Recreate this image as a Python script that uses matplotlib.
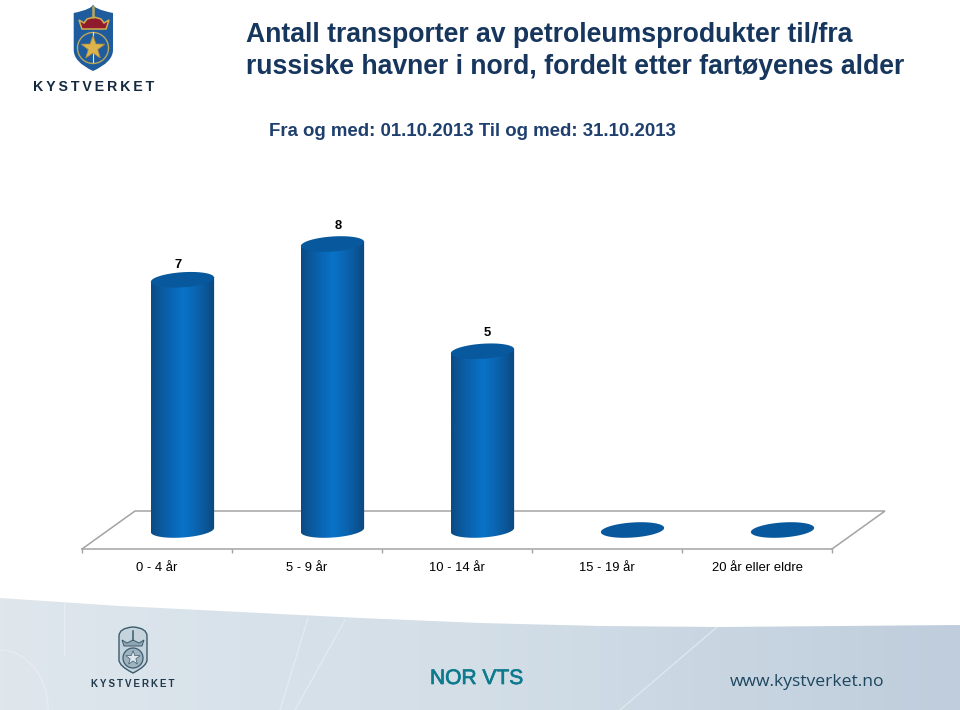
import numpy as np
import matplotlib
matplotlib.use("Agg")
import matplotlib.pyplot as plt
import matplotlib.patheffects as pe
from matplotlib.path import Path
from matplotlib.patches import PathPatch, Polygon, Circle
from matplotlib.colors import LinearSegmentedColormap

categories = ["0 - 4 år", "5 - 9 år", "10 - 14 år", "15 - 19 år", "20 år eller eldre"]
values = [7, 8, 5, 0, 0]
value_labels = ["7", "8", "5", "", ""]
label_nudges = [(-4, 15), (6, 18), (5, 18), (0, 0), (0, 0)]

title_lines = ["Antall transporter av petroleumsprodukter til/fra",
               "russiske havner i nord, fordelt etter fartøyenes alder"]
subtitle = "Fra og med: 01.10.2013 Til og med: 31.10.2013"
org_name = "\u2009".join("KYSTVERKET")

W, H = 960, 710
plt.rcParams["font.family"] = ["Liberation Sans", "DejaVu Sans"]
fig = plt.figure(figsize=(W / 100, H / 100), dpi=100, facecolor="white")

# --- decoration layer in pixel coordinates ---
bg = fig.add_axes([0, 0, 1, 1], zorder=0)
bg.set_xlim(0, W)
bg.set_ylim(H, 0)
bg.axis("off")

edge_x = [0, 120, 240, 360, 480, 600, 720, 840, 960]
edge_y = [598, 606, 612, 618, 623, 626, 627, 626, 625]
band = np.linspace(0, 1, 256).reshape(1, -1)
band_cmap = LinearSegmentedColormap.from_list(
    "band", ["#dfe7ed", "#d8e2ea", "#d3dee7", "#c9d6e2", "#bfcddc"])
im = bg.imshow(band, extent=(0, W, H, 590), cmap=band_cmap, aspect="auto", zorder=1)
poly = Polygon(list(zip(edge_x, edge_y)) + [(W, H), (0, H)], closed=True,
               transform=bg.transData, fc="none", ec="none")
bg.add_patch(poly)
im.set_clip_path(poly)
bg.set_xlim(0, W)
bg.set_ylim(H, 0)

for xs, ys in [([308, 280], [618, 710]), ([345, 295], [620, 710]),
               ([717, 620], [627, 710]), ([64, 64], [603, 655])]:
    bg.plot(xs, ys, color="#eaf0f4", lw=0.9, alpha=0.7, zorder=2)
arc_t = np.linspace(0, np.pi / 2, 40)
bg.plot(48 * np.cos(arc_t), 710 - 60 * np.sin(arc_t), color="#eaf0f4", lw=0.9, alpha=0.7, zorder=2)

# top logo
C3 = Path.CURVE3
shield = Path([(73.7, 13), (93, 9), (93, 4), (93, 9), (113, 13), (113, 50), (113, 62), (93, 71),
               (73.7, 62), (73.7, 50), (73.7, 13)],
              [Path.MOVETO, C3, C3, C3, C3, Path.LINETO, C3, C3, C3, C3, Path.LINETO])
bg.add_patch(PathPatch(shield, fc="#1f5c9e", ec="none", zorder=3))
crown = [(79, 20), (84, 23), (87, 19), (94, 17), (101, 19), (104, 23), (109, 20), (106, 29), (82, 29)]
bg.add_patch(Polygon(crown, closed=True, fc="#8f1b2c", ec="#d2ae4c", lw=1.1, zorder=4))
bg.plot([93, 93], [7, 17], color="#b9a75a", lw=1.8, zorder=4)
bg.add_patch(Circle((93, 48), 15.5, fc="none", ec="#b9a75a", lw=1.0, zorder=4))
bg.plot([93, 93], [32, 62], color="#dfe8ef", lw=0.8, zorder=4)
star_t = np.arange(10) * np.pi / 5 - np.pi / 2
star_r = np.where(np.arange(10) % 2 == 0, 12.5, 5)
bg.add_patch(Polygon(np.c_[93 + star_r * np.cos(star_t), 48 + star_r * np.sin(star_t)],
                     closed=True, fc="#dcb44e", ec="#a98a3a", lw=0.5, zorder=5))
bg.text(93.5, 87, org_name, ha="center", va="center", fontsize=10.2,
        fontweight="bold", color="#14293f", zorder=4)

# footer logo
foot = Path([(119, 636), (119, 628), (133, 627), (147, 628), (147, 636), (147, 660), (147, 666), (133, 673),
             (119, 666), (119, 660), (119, 636)],
            [Path.MOVETO, C3, C3, C3, C3, Path.LINETO, C3, C3, C3, C3, Path.LINETO])
bg.add_patch(PathPatch(foot, fc="#c5d3dc", ec="#3b5b6e", lw=1, zorder=3))
bg.add_patch(Polygon([(122, 640), (127, 643), (133, 640), (139, 643), (144, 640), (142, 646), (124, 646)],
                     closed=True, fc="#8fa6b3", ec="#3b5b6e", lw=0.7, zorder=4))
bg.plot([133, 133], [631, 640], color="#3b5b6e", lw=1.1, zorder=4)
bg.add_patch(Circle((133, 658), 10, fc="#9fb3bf", ec="#3b5b6e", lw=0.9, zorder=4))
bg.add_patch(Polygon(np.c_[133 + star_r * 0.6 * np.cos(star_t), 658 + star_r * 0.6 * np.sin(star_t)],
                     closed=True, fc="#dce6ec", ec="#3b5b6e", lw=0.5, zorder=5))
bg.text(132.5, 684, org_name, ha="center", va="center", fontsize=7.0,
        fontweight="bold", color="#20394b", zorder=4)

bg.text(246, 35, title_lines[0], fontsize=19.15, fontweight="bold", color="#17365d", va="center", zorder=4)
bg.text(246, 67, title_lines[1], fontsize=19.15, fontweight="bold", color="#17365d", va="center", zorder=4)
bg.text(269, 131, subtitle, fontsize=13.4, fontweight="bold", color="#1f3f6e", va="center", zorder=4)
nor = bg.text(430, 678.5, "NOR VTS", fontsize=15.1, color="#0d7a8e", va="center", zorder=4)
nor.set_path_effects([pe.withStroke(linewidth=0.5, foreground="#0d7a8e")])
bg.text(730, 682, "www.kystverket.no", fontsize=12.6, family="Open Sans", color="#1d465f",
        va="center", zorder=4)

# --- chart layer ---
AX_L, AX_R, AX_B = 82, 832, 549
UNIT_Y = 35.75
YMAX = 10
ax = fig.add_axes([AX_L / W, 1 - AX_B / H, (AX_R - AX_L) / W, UNIT_Y * YMAX / H], zorder=1)
ax.patch.set_alpha(0)
ax.set_xlim(-0.5, len(categories) - 0.5)
ax.set_ylim(0, YMAX)
UNIT_X = (AX_R - AX_L) / len(categories)

for s in ["top", "left", "right"]:
    ax.spines[s].set_visible(False)
ax.spines["bottom"].set_color("#a3a3a3")
ax.spines["bottom"].set_linewidth(1.1)
ax.set_yticks([])
ax.set_xticks(range(len(categories)))
ax.set_xticklabels(categories, fontsize=9.4, color="black")
ax.set_xticks(np.arange(len(categories) + 1) - 0.5, minor=True)
ax.tick_params(axis="x", which="major", length=0, pad=9.5)
ax.tick_params(axis="x", which="minor", length=3, color="#a3a3a3", width=1)

# floor: 53 px back to the right, 38 px up
DX, DY = 53 / UNIT_X, 38 / UNIT_Y
x0, x1 = -0.5, len(categories) - 0.5
ax.plot([x0, x0 + DX, x1 + DX, x1], [0, DY, DY, 0], color="#a3a3a3", lw=1.1,
        solid_joinstyle="miter", clip_on=False, zorder=1)

# cylinders sit at the middle of the floor depth
A, B, ANG = 31.7, 7.5, np.radians(4)
t = np.linspace(0, 2 * np.pi, 121)
ex = (A * np.cos(t) * np.cos(ANG) - B * np.sin(t) * np.sin(ANG)) / UNIT_X
ey = (A * np.cos(t) * np.sin(ANG) + B * np.sin(t) * np.cos(ANG)) / UNIT_Y
cmap = LinearSegmentedColormap.from_list(
    "cyl", ["#0b4a84", "#0b5a9f", "#0a66b4", "#0873c8", "#0a67b5", "#0b599d", "#0b477e"])
grad = np.linspace(0, 1, 256).reshape(1, -1)
off_x, off_y = 25.5 / UNIT_X, 19 / UNIT_Y

for i, (v, lab, nudge) in enumerate(zip(values, value_labels, label_nudges)):
    cx, by = i + off_x, off_y
    ty = by + v
    if v > 0:
        right = int(np.argmax(ex))
        left = int(np.argmin(ex))
        low = np.arange(left, left + (right - left) % 120 + 1) % 120
        verts = [(cx + ex[k], by + ey[k]) for k in low]
        verts += [(cx + ex[right], ty + ey[right]), (cx + ex[left], ty + ey[left])]
        body = Path(verts + [verts[0]], closed=True)
        patch = PathPatch(body, transform=ax.transData, fc="none", ec="none")
        ax.add_patch(patch)
        img = ax.imshow(grad, extent=(cx - A / UNIT_X, cx + A / UNIT_X, by - 0.3, ty + 0.3),
                        cmap=cmap, aspect="auto", zorder=2, clip_on=True)
        img.set_clip_path(patch)
    ax.fill(cx + ex, ty + ey, color="#07589c", lw=0, zorder=3)
    if lab:
        ax.annotate(lab, (cx, ty), xytext=nudge, textcoords="offset pixels", ha="center",
                    va="center", fontsize=9.4, fontweight="bold", color="black", zorder=4)

ax.set_xlim(-0.5, len(categories) - 0.5)
ax.set_ylim(0, YMAX)
fig.savefig("out.png", dpi=100, facecolor="white")
